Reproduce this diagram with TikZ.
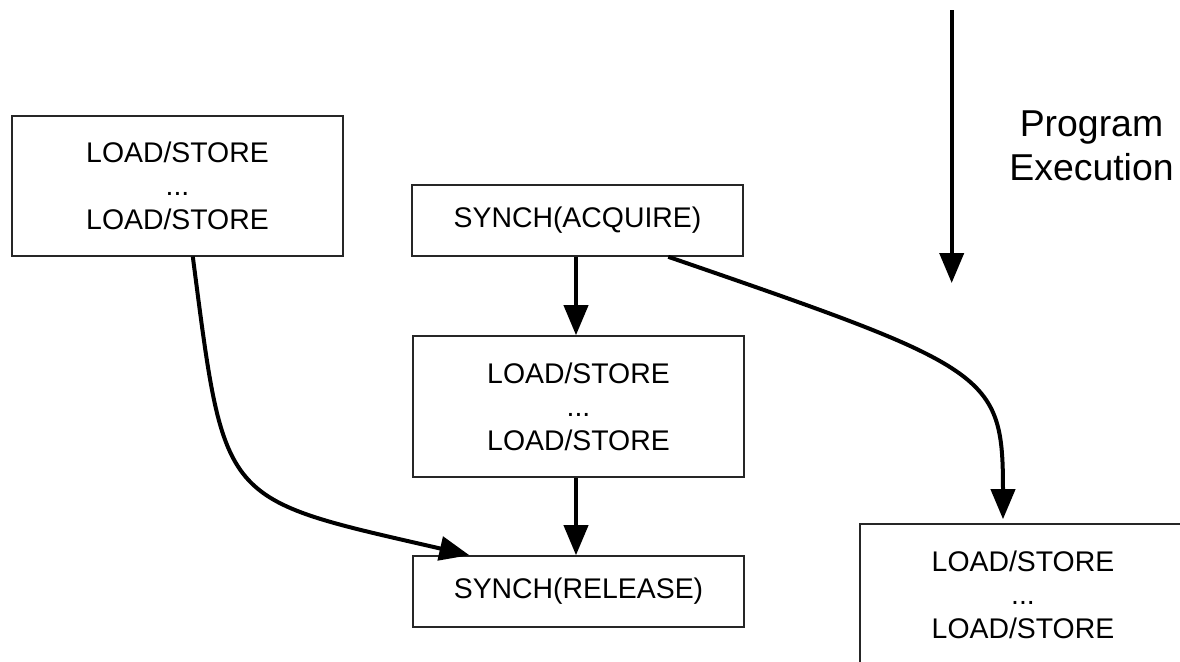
\documentclass[tikz,border=0pt]{standalone}
\usepackage{fontspec}
\setmainfont{Liberation Sans}
\usetikzlibrary{arrows.meta,calc}
\begin{document}
\begin{tikzpicture}[x=0.5pt,y=-0.5pt,
  box/.style={draw=black!85,line width=0.8pt,rectangle,align=center,inner sep=0pt,
    font=\fontsize{14.2}{16.7}\selectfont},
  txt/.style={align=center,inner sep=0pt,font=\fontsize{14.2}{16.7}\selectfont},
  conn/.style={line width=2pt,-{Triangle[length=15pt,width=12pt]}}]
\useasboundingbox (0,0) rectangle (1180,661);
\node[box,minimum width=165.4pt,minimum height=70pt] (ls1) at (177.5,185.7) {LOAD/STORE\\...\\LOAD/STORE};
\node[box,minimum width=165.5pt,minimum height=35.5pt] (acq) at (577.5,220.5) {SYNCH(ACQUIRE)};
\node[box,minimum width=165.5pt,minimum height=70.5pt] (ls2) at (578.5,406.5) {LOAD/STORE\\...\\LOAD/STORE};
\node[box,minimum width=165.5pt,minimum height=35.5pt] (rel) at (578.5,591.5) {SYNCH(RELEASE)};
\node[box,minimum width=180pt,minimum height=70.5pt] (ls3) at (1040,594.5) {};
\node[txt] (ls3t) at (1023,594.5) {LOAD/STORE\\...\\LOAD/STORE};
\coordinate (ptop) at (951.7,10);
\coordinate (pbot) at (951.7,283);
\node[align=center,font=\fontsize{18.7}{21.7}\selectfont] (prog) at (1091.5,146) {Program\\Execution};
\draw[conn] (ptop) -- (pbot);
\draw[conn] (acq.south -| 576,0) -- (ls2.north -| 576,0);
\draw[conn] (ls2.south -| 576,0) -- (rel.north -| 576,0);
\draw[conn] ($(ls1.south west)!0.546!(ls1.south east)$) .. controls +(32.5,250) and +(-250,-57.5) .. ($(rel.north west)!0.172!(rel.north east)$);
\draw[conn,shorten >=2pt] ($(acq.south west)!0.773!(acq.south east)$) .. controls +(321.6,110.8) and +(0,-150) .. (ls3.north -| 1003,0);
\end{tikzpicture}
\end{document}
